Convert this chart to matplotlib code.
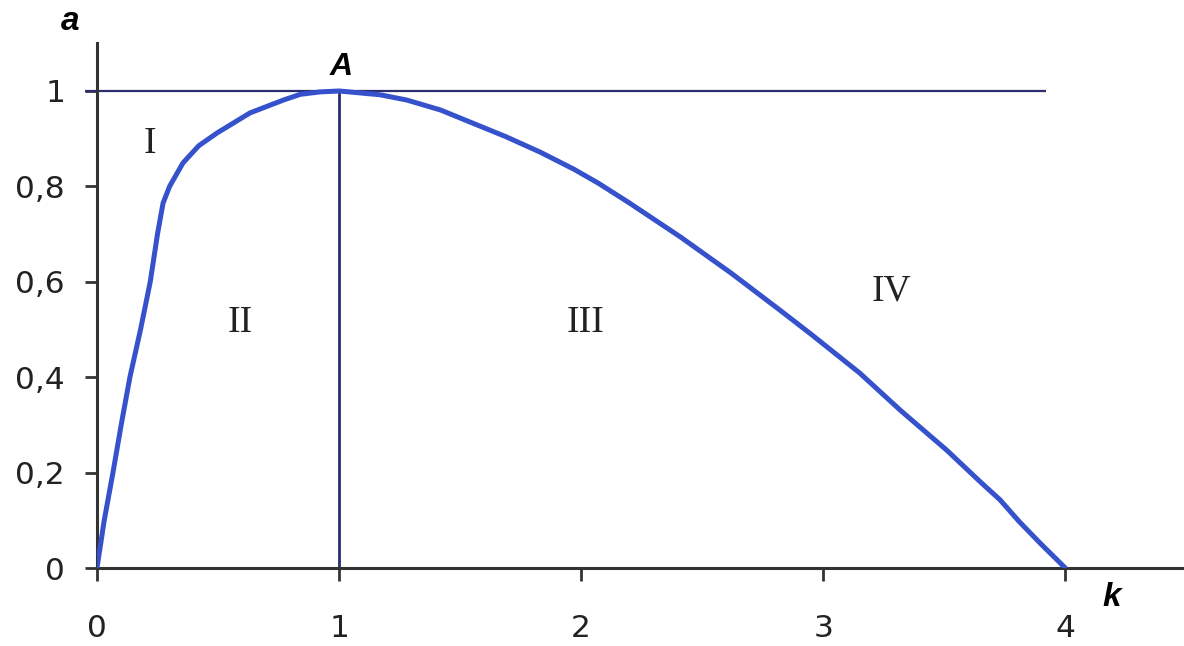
import matplotlib.pyplot as plt

# curve a(k), read point by point
k_vals = [0, 0.03, 0.066, 0.10, 0.136, 0.18, 0.22, 0.25, 0.273, 0.30, 0.355, 0.42,
          0.496, 0.632, 0.77, 0.84, 0.92, 1.0, 1.17, 1.28, 1.42, 1.55, 1.69, 1.83,
          1.97, 2.07, 2.20, 2.41, 2.62, 2.82, 2.95, 3.15, 3.32, 3.51, 3.65, 3.73,
          3.81, 3.9, 4.0]
a_vals = [0, 0.10, 0.20, 0.30, 0.40, 0.50, 0.60, 0.70, 0.765, 0.80, 0.849, 0.885,
          0.912, 0.954, 0.981, 0.993, 0.998, 1.0, 0.992, 0.981, 0.96, 0.933, 0.904, 0.872,
          0.836, 0.807, 0.765, 0.694, 0.618, 0.541, 0.49, 0.409, 0.33, 0.247, 0.18, 0.143,
          0.097, 0.05, 0]

peak_k = 1.0
level_a = 1.0
level_end = 3.92

x_ticks = [0, 1, 2, 3, 4]
y_ticks = [0, 0.2, 0.4, 0.6, 0.8, 1]
y_tick_labels = ["0", "0,2", "0,4", "0,6", "0,8", "1"]

zones = ["I", "II", "III", "IV"]
zone_k = [0.22, 0.59, 2.02, 3.28]
zone_a = [0.89, 0.515, 0.515, 0.58]

fig = plt.figure(figsize=(11.84, 6.46), dpi=100)
ax = fig.add_axes([0.0819, 0.1207, 0.9181, 0.8123])
ax.set_xlim(0, 4.49)
ax.set_ylim(0, 1.10)

for side in ("top", "right"):
    ax.spines[side].set_visible(False)
for side in ("left", "bottom"):
    ax.spines[side].set_color("#333333")
    ax.spines[side].set_linewidth(2.2)

ax.hlines(level_a, -0.05, level_end, color="#2b2d6e", lw=1.6, clip_on=False)
ax.vlines(peak_k, 0, level_a, color="#2b2d6e", lw=2.0)
ax.plot(k_vals, a_vals, color="#3552cc", lw=3.6, solid_capstyle="round",
        solid_joinstyle="round", zorder=3)

ax.set_xticks(x_ticks)
ax.set_yticks(y_ticks)
ax.set_yticklabels(y_tick_labels)
ax.tick_params(axis="both", direction="out", length=9, width=2, color="#333333",
               labelsize=22.5, labelcolor="#222222")
ax.tick_params(axis="y", pad=14)
ax.tick_params(axis="x", pad=24)

for name, kx, ay in zip(zones, zone_k, zone_a):
    ax.text(kx, ay, name, family="Liberation Serif", fontsize=27,
            ha="center", va="center", color="#222222")

ax.text(-0.11, 1.145, "a", family="Liberation Sans", fontsize=24, weight="bold",
        style="italic", ha="center", va="center", clip_on=False)
ax.text(1.01, 1.05, "A", family="Liberation Sans", fontsize=23, weight="bold",
        style="italic", ha="center", va="center")
ax.text(4.19, -0.062, "k", family="Liberation Sans", fontsize=24, weight="bold",
        style="italic", ha="center", va="center", clip_on=False)

fig.savefig("out.png", dpi=100)
